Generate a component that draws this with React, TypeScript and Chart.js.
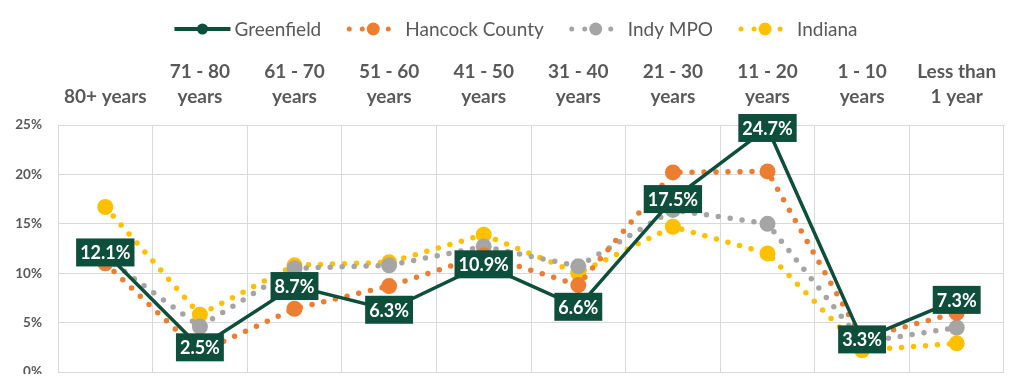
import React, { useEffect, useRef } from "react";
import { Chart, registerables } from "chart.js";

Chart.register(...registerables);

const categories: string[][] = [
  ["80+ years"],
  ["71 - 80", "years"],
  ["61 - 70", "years"],
  ["51 - 60", "years"],
  ["41 - 50", "years"],
  ["31 - 40", "years"],
  ["21 - 30", "years"],
  ["11 - 20", "years"],
  ["1 - 10", "years"],
  ["Less than", "1 year"],
];
const greenfield = [12.1, 2.5, 8.7, 6.3, 10.9, 6.6, 17.5, 24.7, 3.3, 7.3];
const hancockCounty = [11.0, 2.0, 6.4, 8.7, 11.8, 8.8, 20.2, 20.3, 3.4, 6.0];
const indyMpo = [11.6, 4.6, 10.5, 10.8, 12.7, 10.7, 16.4, 15.0, 3.0, 4.5];
const indiana = [16.7, 5.8, 10.8, 11.1, 13.9, 10.0, 14.7, 12.0, 2.2, 2.9];
const seriesNames = ["Greenfield", "Hancock County", "Indy MPO", "Indiana"];
const yMax = 25;
const yStep = 5;

const GREEN = "#0E4F3C";
const ORANGE = "#ED7D31";
const GRAY = "#A5A5A5";
const YELLOW = "#FFC000";
const TEXT = "#595959";
const FONT = "Lato, 'Open Sans', sans-serif";

const dataLabelPlugin = {
  id: "greenLabels",
  afterDatasetsDraw(chart: any) {
    const ctx = chart.ctx;
    const meta = chart.getDatasetMeta(0);
    const ds = chart.data.datasets[0];
    ctx.save();
    ctx.font = `bold 18px ${FONT}`;
    ctx.textAlign = "center";
    ctx.textBaseline = "middle";
    meta.data.forEach((pt: any, i: number) => {
      const txt = `${ds.data[i].toFixed(1)}%`;
      const w = ctx.measureText(txt).width + 8;
      const h = 28;
      ctx.fillStyle = GREEN;
      ctx.fillRect(pt.x - w / 2, pt.y - h / 2, w, h);
      ctx.fillStyle = "#ffffff";
      ctx.fillText(txt, pt.x, pt.y + 1);
    });
    ctx.restore();
  },
};

const legendPlugin = {
  id: "customLegend",
  afterDraw(chart: any) {
    const ctx = chart.ctx;
    const colors = [GREEN, ORANGE, GRAY, YELLOW];
    ctx.save();
    ctx.font = `19px ${FONT}`;
    const symW = 56;
    const gap = 4;
    const itemGap = 24;
    const widths = seriesNames.map((n) => ctx.measureText(n).width);
    const total =
      widths.reduce((a, b) => a + b, 0) + seriesNames.length * (symW + gap) + (seriesNames.length - 1) * itemGap;
    let x = chart.width / 2 - total / 2 + 3;
    const y = 21;
    seriesNames.forEach((name, i) => {
      const c = colors[i];
      if (i === 0) {
        ctx.strokeStyle = c;
        ctx.lineWidth = 4;
        ctx.setLineDash([]);
        ctx.beginPath();
        ctx.moveTo(x, y);
        ctx.lineTo(x + symW, y);
        ctx.stroke();
        ctx.fillStyle = c;
        ctx.beginPath();
        ctx.arc(x + symW / 2, y, 5.5, 0, Math.PI * 2);
        ctx.fill();
      } else {
        ctx.strokeStyle = c;
        ctx.lineWidth = 5;
        ctx.lineCap = "round";
        ctx.setLineDash([0, 13]);
        ctx.beginPath();
        ctx.moveTo(x + 4, y);
        ctx.lineTo(x + symW - 4, y);
        ctx.stroke();
        ctx.setLineDash([]);
        ctx.fillStyle = c;
        ctx.beginPath();
        ctx.arc(x + symW / 2, y, 6.5, 0, Math.PI * 2);
        ctx.fill();
      }
      ctx.fillStyle = TEXT;
      ctx.textAlign = "left";
      ctx.textBaseline = "middle";
      ctx.fillText(name, x + symW + gap, y + 1);
      x += symW + gap + widths[i] + itemGap;
    });
    ctx.restore();
  },
};

export default function App() {
  const canvasRef = useRef<HTMLCanvasElement | null>(null);

  useEffect(() => {
    if (!canvasRef.current) return;
    const dotted = (label: string, data: number[], color: string) => ({
      label,
      data,
      borderColor: color,
      backgroundColor: color,
      borderWidth: 5.5,
      borderDash: [0, 12],
      borderCapStyle: "round" as const,
      pointRadius: 8,
      pointHoverRadius: 8,
      pointBorderWidth: 0,
      tension: 0,
    });
    const chart = new Chart(canvasRef.current, {
      type: "line",
      data: {
        labels: categories,
        datasets: [
          {
            label: seriesNames[0],
            data: greenfield,
            borderColor: GREEN,
            backgroundColor: GREEN,
            borderWidth: 3.5,
            pointRadius: 4,
            pointBorderWidth: 0,
            tension: 0,
          },
          dotted(seriesNames[1], hancockCounty, ORANGE),
          dotted(seriesNames[2], indyMpo, GRAY),
          dotted(seriesNames[3], indiana, YELLOW),
        ],
      },
      options: {
        animation: false,
        responsive: false,
        maintainAspectRatio: false,
        layout: { autoPadding: false, padding: { top: 50, right: 14, bottom: 10, left: 0 } },
        plugins: {
          legend: { display: false },
          tooltip: { enabled: false },
        },
        scales: {
          x: {
            position: "top",
            offset: true,
            grid: { offset: true, color: "#D9D9D9", drawTicks: false, lineWidth: 1 },
            border: { display: true, color: "#D9D9D9" },
            ticks: {
              color: TEXT,
              padding: 16,
              maxRotation: 0,
              autoSkip: false,
              font: { family: FONT, size: 19, weight: "bold", lineHeight: 1.32 },
            },
            afterFit(scale: any) {
              scale.height = 67;
              scale.paddingLeft = 0;
              scale.paddingRight = 0;
            },
          },
          y: {
            min: 0,
            max: yMax,
            grid: { color: "#D9D9D9", drawTicks: false },
            border: { display: true, color: "#D9D9D9" },
            ticks: {
              stepSize: yStep,
              color: TEXT,
              padding: 16,
              font: { family: FONT, size: 13.5, weight: "bold" },
              callback: (v: any) => `${v}%`,
            },
            afterFit(scale: any) {
              scale.width = 50;
              scale.paddingTop = 0;
              scale.paddingBottom = 0;
            },
          },
        },
      },
      plugins: [dataLabelPlugin, legendPlugin],
    });
    return () => chart.destroy();
  }, []);

  return (
    <canvas
      ref={canvasRef}
      width={1010}
      height={374}
      style={{ display: "block", marginBottom: -8 }}
    />
  );
}
